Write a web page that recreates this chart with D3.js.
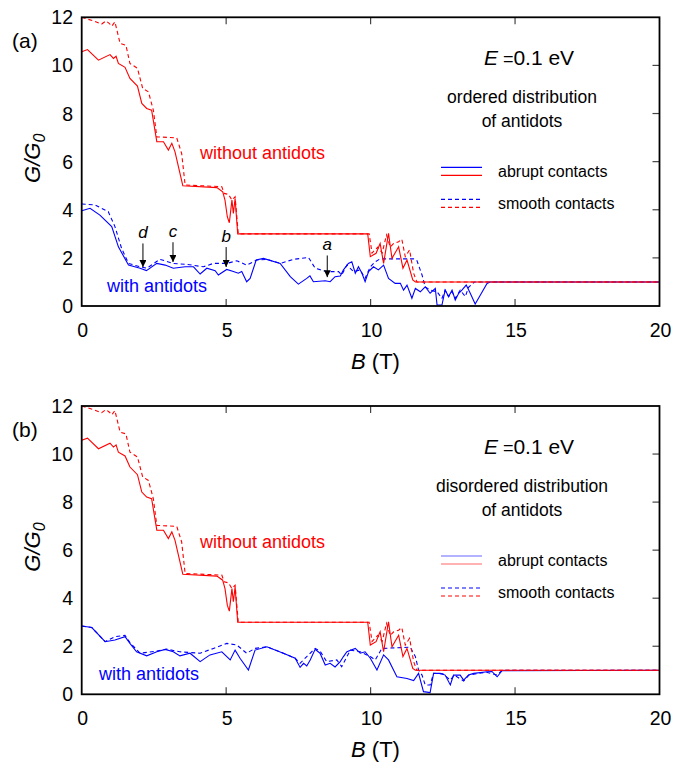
<!DOCTYPE html>
<html>
<head>
<meta charset="utf-8">
<script src="https://cdn.jsdelivr.net/npm/d3@7"></script>
<style>
  body { margin: 0; background: #fff; }
  text { font-family: "Liberation Sans", Arial, Helvetica, sans-serif; }
</style>
</head>
<body>
<div id="chart"></div>
<script>
// conductance G/G0 vs magnetic field B (T), pairs of [B, G]

// without antidots (same in both panels)
var redAbrupt = [[0,10.57],[0.2,10.66],[0.58,10.22],[0.98,10.45],[1.1,10.29],[1.19,10.38],[1.27,10.08],[1.5,9.92],
  [1.67,9.46],[1.93,9.14],[2.08,8.42],[2.25,8.21],[2.42,8.14],[2.6,6.83],[2.83,6.83],[3.0,6.48],[3.12,6.76],
  [3.23,6.41],[3.5,5.0],[4.68,4.92],[4.88,4.75],[4.96,4.4],[5.04,3.71],[5.11,3.46],[5.2,4.4],[5.25,3.85],
  [5.31,4.47],[5.4,3.0],[9.9,3.0],[9.99,2.05],[10.19,2.19],[10.33,2.6],[10.45,1.77],[10.62,3.02],[10.74,1.98],
  [10.97,2.46],[11.12,1.57],[11.26,1.91],[11.46,1.08],[11.55,1.0],[20,1.0]];

var redSmooth = [[0,12.0],[0.4,11.85],[0.69,11.72],[0.84,11.85],[0.96,11.74],[1.04,11.63],[1.15,11.81],[1.33,10.91],
  [1.53,10.84],[1.67,10.08],[1.93,9.88],[2.11,9.05],[2.31,8.9],[2.48,8.14],[2.6,7.03],[3.29,6.99],[3.46,6.34],
  [3.58,5.03],[4.85,4.96],[4.93,4.68],[5.08,4.64],[5.2,4.4],[5.31,4.54],[5.42,3.0],[9.95,3.0],[10.05,2.2],
  [10.25,2.45],[10.4,2.2],[10.55,2.95],[10.68,2.45],[10.8,2.6],[10.97,2.67],[11.08,2.78],[11.2,2.05],[11.35,2.33],
  [11.49,1.36],[11.6,1.0],[20,1.0]];

// with antidots, ordered distribution (a)
var blueAbruptOrd = [[0,3.96],[0.29,4.06],[0.63,3.78],[1.04,3.3],[1.27,2.46],[1.62,1.7],[2.02,1.57],[2.24,1.47],
  [2.6,1.77],[2.89,1.7],[3.17,1.57],[3.58,1.63],[3.87,1.63],[4.1,1.33],[4.33,1.57],[4.62,1.47],[4.73,1.29],
  [5.02,1.52],[5.25,1.43],[5.42,1.36],[5.54,1.43],[5.71,1.01],[5.83,1.15],[6.04,1.91],[6.29,1.98],[6.87,1.77],
  [7.22,1.22],[7.5,0.91],[7.79,1.15],[7.9,1.25],[8.02,1.01],[8.43,1.05],[8.6,1.01],[8.77,1.22],[8.95,1.25],
  [9.06,1.5],[9.23,1.77],[9.35,1.84],[9.47,1.36],[9.58,1.63],[9.7,1.36],[9.81,1.01],[9.93,1.43],[10.1,1.63],
  [10.27,1.5],[10.45,1.7],[10.62,1.15],[10.85,0.94],[11.03,0.94],[11.14,0.66],[11.26,0.87],[11.43,0.32],
  [11.55,0.73],[11.72,0.59],[11.89,0.8],[12.06,0.53],[12.24,0.73],[12.3,0.04],[12.47,0.04],[12.58,0.66],
  [12.7,0.39],[12.82,0.66],[12.93,0.25],[13.05,0.53],[13.16,0.66],[13.31,0.87],[13.45,0.53],[13.62,0.08],
  [13.8,0.46],[14.03,0.94],[14.14,1.0],[20,1.0]];

var blueSmoothOrd = [[0,4.24],[0.46,4.2],[0.92,3.92],[1.15,3.3],[1.38,2.4],[1.62,1.77],[2.02,1.63],[2.25,1.57],
  [2.71,1.94],[3.17,1.77],[3.64,1.73],[4.21,1.63],[4.56,1.77],[5.02,1.77],[5.37,1.88],[5.71,1.7],[6.06,1.91],
  [6.41,1.94],[6.87,1.77],[7.33,1.94],[7.85,2.02],[8.08,1.57],[8.48,1.43],[8.89,1.43],[9.0,1.29],[9.18,1.7],
  [9.41,1.43],[9.64,1.5],[9.81,1.15],[9.99,1.63],[10.16,1.84],[10.33,1.96],[11.49,1.96],[11.6,1.9],[11.78,1.29],
  [11.89,0.8],[12.06,0.66],[12.3,0.59],[12.47,0.32],[12.58,0.66],[12.7,0.39],[12.82,0.59],[12.93,0.32],
  [13.1,0.66],[13.28,0.39],[13.39,0.78],[13.6,1.0],[20,1.0]];

// with antidots, disordered distribution (b)
var blueAbruptDis = [[0,2.84],[0.35,2.78],[0.81,2.19],[1.15,2.26],[1.5,2.4],[1.67,2.12],[1.9,1.77],[2.25,1.6],
  [2.6,1.77],[2.89,1.87],[3.17,1.77],[3.4,1.6],[3.75,1.71],[4.1,1.36],[4.44,1.64],[4.85,1.77],[5.14,1.43],
  [5.31,1.84],[5.48,1.5],[5.77,1.01],[6.0,1.84],[6.41,1.98],[6.98,1.71],[7.39,1.5],[7.56,1.12],[7.68,1.29],
  [7.79,1.18],[7.91,1.43],[8.08,1.87],[8.25,1.71],[8.43,1.22],[8.6,1.29],[8.77,1.14],[8.95,1.36],[9.06,1.57],
  [9.18,1.77],[9.47,1.91],[9.64,1.71],[9.81,1.77],[9.99,1.5],[10.22,1.01],[10.45,1.64],[10.62,1.43],
  [10.91,0.73],[11.26,0.66],[11.49,0.57],[11.66,0.87],[11.83,0.11],[12.06,0.07],[12.18,0.87],[12.41,0.87],
  [12.58,0.8],[12.76,0.39],[12.87,0.8],[13.1,0.8],[13.22,0.59],[13.39,0.8],[13.57,0.87],[14.03,0.94],
  [14.2,0.95],[14.38,0.73],[14.55,0.98],[20,1.0]];

var blueSmoothDis = [[0,2.84],[0.35,2.78],[0.81,2.19],[1.15,2.4],[1.5,2.45],[1.67,2.15],[2.02,1.71],[2.6,1.8],
  [2.94,1.88],[3.4,1.77],[4.1,1.71],[4.56,1.91],[5.02,2.12],[5.37,2.05],[5.71,1.71],[6.0,1.91],[6.41,1.98],
  [6.98,1.71],[7.39,1.5],[7.56,1.29],[7.79,1.57],[8.08,1.91],[8.25,1.8],[8.48,1.36],[8.83,1.43],[9.0,1.15],
  [9.3,1.84],[9.64,1.77],[9.99,1.57],[10.16,1.43],[10.39,1.91],[11.37,1.96],[11.55,1.57],[11.66,1.01],
  [11.78,0.8],[11.89,0.39],[12.06,0.39],[12.18,0.87],[12.5,0.85],[12.76,0.59],[12.9,0.8],[13.22,0.55],
  [13.4,0.8],[14.0,0.92],[14.38,0.8],[14.55,1.0],[20,1.0]];

// arrow markers on panel (a): label, B, tip G
var markLabels = ["d", "c", "b", "a"];
var markB = [2.12, 3.16, 5.0, 8.5];
var markTip = [1.62, 1.83, 1.62, 1.2];
var markTop = [2.6, 2.65, 2.45, 2.1];

var xTicks = [0, 5, 10, 15, 20];
var yTicks = [0, 2, 4, 6, 8, 10, 12];

var RED = "#ff0000", BLUE = "#0000ff";

var W = 676, H = 765;
var svg = d3.select("#chart").append("svg").attr("width", W).attr("height", H);

svg.append("defs").append("marker")
  .attr("id", "arr").attr("viewBox", "0 0 10 10").attr("refX", 10).attr("refY", 5)
  .attr("markerWidth", 7).attr("markerHeight", 7).attr("markerUnits", "userSpaceOnUse").attr("orient", "auto")
  .append("path").attr("d", "M0,0 L10,5 L0,10 z").attr("fill", "#000");

var x = d3.scaleLinear().domain([0, 20]).range([81.7, 659.5]);

function panel(top, bottom, tag, desc, smoothAbrupt, solidB, dashB, lab) {
  var y = d3.scaleLinear().domain([0, 12]).range([bottom, top]);
  var g = svg.append("g");
  var line = d3.line().x(function(d) { return x(d[0]); }).y(function(d) { return y(d[1]); });

  g.append("defs").append("clipPath").attr("id", "clip" + tag)
    .append("rect").attr("x", x(0)).attr("y", top).attr("width", x(20) - x(0)).attr("height", bottom - top);
  var c = g.append("g").attr("clip-path", "url(#clip" + tag + ")");

  // ticks (inside, top/bottom and right)
  xTicks.forEach(function(t) {
    if (t == 0 || t == 20) return;
    g.append("line").attr("x1", x(t)).attr("x2", x(t)).attr("y1", bottom).attr("y2", bottom - 7).attr("stroke", "#444").attr("stroke-width", 1.2);
    g.append("line").attr("x1", x(t)).attr("x2", x(t)).attr("y1", top).attr("y2", top + 7).attr("stroke", "#444").attr("stroke-width", 1.2);
  });
  yTicks.forEach(function(t) {
    if (t == 0 || t == 12) return;
    g.append("line").attr("x1", x(20)).attr("x2", x(20) - 7).attr("y1", y(t)).attr("y2", y(t)).attr("stroke", "#444").attr("stroke-width", 1.2);
  });

  c.append("path").datum(dashB).attr("d", line).attr("fill", "none").attr("stroke", BLUE).attr("stroke-width", 1.1).attr("stroke-dasharray", "4,3");
  c.append("path").datum(solidB).attr("d", line).attr("fill", "none").attr("stroke", BLUE).attr("stroke-width", 1.1);
  c.append("path").datum(redSmooth).attr("d", line).attr("fill", "none").attr("stroke", RED).attr("stroke-width", 1.1).attr("stroke-dasharray", "4,3");
  c.append("path").datum(redAbrupt).attr("d", line).attr("fill", "none").attr("stroke", RED).attr("stroke-width", 1.1);

  g.append("rect").attr("x", x(0)).attr("y", top).attr("width", x(20) - x(0)).attr("height", bottom - top)
    .attr("fill", "none").attr("stroke", "#000").attr("stroke-width", 1.8);

  // tick labels
  yTicks.forEach(function(t) {
    g.append("text").attr("x", 73).attr("y", y(t) + 7).attr("text-anchor", "end").attr("font-size", 19.5).text(t);
  });
  xTicks.forEach(function(t) {
    g.append("text").attr("x", x(t) + 1).attr("y", bottom + 31).attr("text-anchor", "middle").attr("font-size", 19.5).text(t);
  });

  var xl = g.append("text").attr("x", 351).attr("y", bottom + 63).attr("font-size", 22);
  xl.append("tspan").attr("font-style", "italic").text("B");
  xl.append("tspan").text(" (T)");

  var yl = g.append("text").attr("transform", "translate(40," + (top + 141) + ") rotate(-90)")
    .attr("text-anchor", "middle").attr("font-size", 22).attr("font-style", "italic");
  yl.append("tspan").text("G/G");
  yl.append("tspan").attr("font-size", 16).attr("dy", 5).text("0");

  g.append("text").attr("x", 12).attr("y", top + 31).attr("font-size", 21).text(tag);

  var et = g.append("text").attr("x", 529).attr("y", top + 48).attr("text-anchor", "middle").attr("font-size", 21);
  et.append("tspan").attr("font-style", "italic").text("E");
  et.append("tspan").attr("font-size", 18).text(" =");
  et.append("tspan").text("0.1 eV");

  g.append("text").attr("x", 522).attr("y", top + 86).attr("text-anchor", "middle").attr("font-size", 17.5).text(desc);
  g.append("text").attr("x", 522).attr("y", top + 110).attr("text-anchor", "middle").attr("font-size", 17.5).text("of antidots");

  // legend
  var lx0 = 441, lx1 = 482, ly = top + 150;
  g.append("line").attr("x1", lx0).attr("x2", lx1).attr("y1", ly).attr("y2", ly).attr("stroke", BLUE).attr("stroke-width", 1.2).attr("stroke-opacity", smoothAbrupt);
  g.append("line").attr("x1", lx0).attr("x2", lx1).attr("y1", ly + 8).attr("y2", ly + 8).attr("stroke", RED).attr("stroke-width", 1.2).attr("stroke-opacity", smoothAbrupt);
  g.append("text").attr("x", 498).attr("y", ly + 10).attr("font-size", 16).text("abrupt contacts");
  g.append("line").attr("x1", lx0).attr("x2", lx1).attr("y1", ly + 32).attr("y2", ly + 32).attr("stroke", BLUE).attr("stroke-width", 1.2).attr("stroke-dasharray", "4,3");
  g.append("line").attr("x1", lx0).attr("x2", lx1).attr("y1", ly + 40).attr("y2", ly + 40).attr("stroke", RED).attr("stroke-width", 1.2).attr("stroke-dasharray", "4,3");
  g.append("text").attr("x", 498).attr("y", ly + 42).attr("font-size", 16).text("smooth contacts");

  g.append("text").attr("x", 200).attr("y", top + 142).attr("font-size", 18).attr("fill", RED).text("without antidots");
  g.append("text").attr("x", lab).attr("y", bottom - 14).attr("font-size", 18).attr("fill", BLUE).text("with antidots");

  return y;
}

var yA = panel(17.3, 306, "(a)", "ordered distribution", 1, blueAbruptOrd, blueSmoothOrd, 107);
panel(406, 694.3, "(b)", "disordered distribution", 0.6, blueAbruptDis, blueSmoothDis, 99);

// arrows with letters, panel (a)
markB.forEach(function(b, i) {
  svg.append("line").attr("x1", x(b)).attr("x2", x(b)).attr("y1", yA(markTop[i])).attr("y2", yA(markTip[i]))
    .attr("stroke", "#000").attr("stroke-width", 1).attr("marker-end", "url(#arr)");
  svg.append("text").attr("x", x(b)).attr("y", yA(markTop[i]) - 5).attr("text-anchor", "middle")
    .attr("font-size", 17).attr("font-style", "italic").text(markLabels[i]);
});
</script>
</body>
</html>
